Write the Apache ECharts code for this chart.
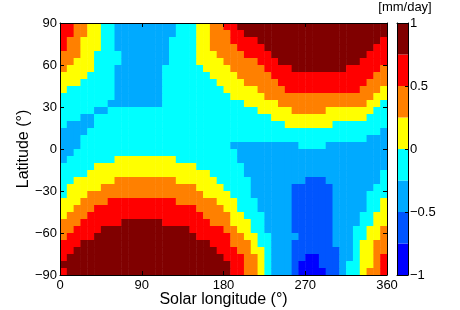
<!DOCTYPE html>
<html><head><meta charset="utf-8">
<script src="https://cdn.jsdelivr.net/npm/echarts@6/dist/echarts.min.js"></script>
<style>html,body{margin:0;padding:0;background:#fff}#c{width:460px;height:310px}</style>
</head><body><div id="c"></div>
<script>
// Solar longitude (deg) at cell centres, latitude (deg) at cell centres
const lsCenters = [3.75,11.25,18.75,26.25,33.75,41.25,48.75,56.25,63.75,71.25,78.75,86.25,
  93.75,101.25,108.75,116.25,123.75,131.25,138.75,146.25,153.75,161.25,168.75,176.25,
  183.75,191.25,198.75,206.25,213.75,221.25,228.75,236.25,243.75,251.25,258.75,266.25,
  273.75,281.25,288.75,296.25,303.75,311.25,318.75,326.25,333.75,341.25,348.75,356.25];
const latCenters = [87.5,82.5,77.5,72.5,67.5,62.5,57.5,52.5,47.5,42.5,37.5,32.5,27.5,22.5,17.5,12.5,7.5,2.5,
  -2.5,-7.5,-12.5,-17.5,-22.5,-27.5,-32.5,-37.5,-42.5,-47.5,-52.5,-57.5,-62.5,-67.5,-72.5,-77.5,-82.5,-87.5];
// contour levels [mm/day] and their fill colours
const levelBounds = [-1,-0.75,-0.5,-0.25,0,0.25,0.5,0.75,1];
const levelColors = ['#0000ff','#0055ff','#00aaff','#00ffff','#ffff00','#ff8000','#ff0000','#800000'];
const xTicks = [0,90,180,270,360];
const yTicks = [-90,-60,-30,0,30,60,90];
const cbTicks = [-1,-0.5,0,0.5,1];
// level index (0..7) read for each cell, one string per latitude row (north to south)
const levelRows = [
 ['66554433','222222222','333445566','7777777777','7777777777','77'].join(''),
 ['66554433','222222222','3334455566','7777777777','7777777777','7'].join(''),
 ['655444','33','22222222','3333','445556666','7777777777','77777777','6'].join(''),
 ['655444','33','22222222','3333','4455556666','7777777777','777777','66'].join(''),
 ['55544','3333','2222222','3333','444','55556666','7777777777','7777','666'].join(''),
 ['55444','3333','2222222','3333','4444','55555666','7777777777','77','6666'].join(''),
 ['54444333','2222222','333333','4444','555556666','77777777','666665'].join(''),
 ['44443333','2222222','3333333','444455555','6666666666','66666','55'].join(''),
 ['44433333','2222222','33333333','444455555','6666666666','666','555'].join(''),
 ['43333333','2222222','333333333','444445555','6666666666','6','5554'].join(''),
 ['33333333','2222222','3333333333','44444','5555555555','555555','44'].join(''),
 ['3333333','22222222','3333333333','33','44444','5555555555','555','443'].join(''),
 ['3333322','3333333333','3333333333','33','4444455555','4444444','33'].join(''),
 ['33322','3333333333','3333333333','333333','4444444444','4444','333'].join(''),
 ['32222','3333333333','3333333333','33333333','4444444','33333333'].join(''),
 ['2222','3333333333','3333333333','3333333333','3333333333','333','2'].join(''),
 ['222','3333333333','3333333333','3333333333','3333333333','33','222'].join(''),
 ['222','3333333333','3333333333','33','2222222222','3333','222222222'].join(''),
 ['22','3333333333','3333333333','3333','2222222222','2222222222','22'].join(''),
 ['23333333','444444444','333333333','2222222222','2222222222','22'].join(''),
 ['33333','4444444444','44444','3333333','2222222222','2222222222','2'].join(''),
 ['3333','4444444444','44444444','33333','2222222222','2222222222','3'].join(''),
 ['33444444','555555555','444444','33333','22222222','111','22222222','3'].join(''),
 ['344444','5555555555','5555','44443333','222222','111111','222222','33'].join(''),
 ['3444','5555555555','5555555','4444333','222222','111111','22222','333'].join(''),
 ['4445555','6666666666','555555','444333','22222','111111','22222','334'].join(''),
 ['44555','6666666666','66666','555544','333','22222','111111','22222','334'].join(''),
 ['4555','6666666666','6666666','555544','333','2222','111111','2222','3344'].join(''),
 ['555666666','777777','6666666','555444','33','2222','111111','2222','3344'].join(''),
 ['556666','7777777777','777','66666','554433','2222','111111','222','33445'].join(''),
 ['56666','7777777777','77777','66666','554433','2222','11111','222','33445'].join(''),
 ['666','7777777777','777777777','6665554','33','222','111111','222','34455'].join(''),
 ['66','7777777777','7777777777','7','66655443','222','1111111','22','34455'].join(''),
 ['6','7777777777','7777777777','777','66655','43','222','1100111','22','34456'].join(''),
 ['7777777777','7777777777','77777','665543','222','1000111','2','334456'].join(''),
 ['6','7777777777','7777777777','7777','665543','222','1000011','2','334556'].join('')
];
levelRows.forEach((r, i) => { if (r.length !== lsCenters.length) throw new Error('row ' + i + ' has length ' + r.length); });

const lsStep = 7.5, latStep = 5;
const cells = [];
levelRows.forEach((row, r) => {
  for (let c = 0; c < row.length; c++) {
    const d = +row[c];
    cells.push([lsCenters[c], latCenters[r], (levelBounds[d] + levelBounds[d + 1]) / 2, d]);
  }
});
const cbData = levelColors.map((col, i) => [0, levelBounds[i], levelBounds[i + 1], i]);

const FONT = '"Liberation Sans", Arial, Helvetica, sans-serif';
const minus = v => String(v).replace('-', '\u2212');
const lineStyle = { color: '#000', width: 1 };
const axLine = { show: true, onZero: false, lineStyle };
const tickStyle = { show: true, inside: true, length: 4, lineStyle: { color: '#000', width: 1 } };
const noLabel = { show: false };

const chart = echarts.init(document.getElementById('c'));
chart.setOption({
  animation: false,
  backgroundColor: '#fff',
  textStyle: { fontFamily: FONT },
  grid: [
    { left: 60, top: 23, width: 327, height: 252, outerBoundsMode: 'none', containLabel: false },
    { left: 397, top: 23, width: 11, height: 252, outerBoundsMode: 'none', containLabel: false }
  ],
  xAxis: [
    { type: 'value', gridIndex: 0, min: 0, max: 360, interval: 90, position: 'bottom', z: 10,
      axisLine: axLine, axisTick: tickStyle, splitLine: { show: false },
      axisLabel: { color: '#000', fontSize: 13, margin: 4, fontFamily: FONT,
        formatter: v => xTicks.includes(v) ? String(v) : '' },
      name: 'Solar longitude (°)', nameLocation: 'middle', nameGap: 17, nameMoveOverlap: false,
      nameTextStyle: { color: '#000', fontSize: 16, fontFamily: FONT, verticalAlign: 'top' } },
    { type: 'value', gridIndex: 0, min: 0, max: 360, interval: 90, position: 'top', z: 10,
      axisLine: axLine, axisTick: tickStyle, axisLabel: noLabel, splitLine: { show: false } },
    { type: 'value', gridIndex: 1, min: 0, max: 1, position: 'bottom', z: 10,
      axisLine: axLine, axisTick: { show: false }, axisLabel: noLabel, splitLine: { show: false } },
    { type: 'value', gridIndex: 1, min: 0, max: 1, position: 'top', z: 10,
      axisLine: axLine, axisTick: { show: false }, axisLabel: noLabel, splitLine: { show: false } }
  ],
  yAxis: [
    { type: 'value', gridIndex: 0, min: -90, max: 90, interval: 30, position: 'left', z: 10,
      axisLine: axLine, axisTick: tickStyle, splitLine: { show: false },
      axisLabel: { color: '#000', fontSize: 13, margin: 3, fontFamily: FONT,
        formatter: v => yTicks.includes(v) ? minus(v) : '' },
      name: 'Latitude (°)', nameLocation: 'middle', nameGap: 36, nameRotate: 90, nameMoveOverlap: false,
      nameTextStyle: { color: '#000', fontSize: 16, fontFamily: FONT, verticalAlign: 'middle' } },
    { type: 'value', gridIndex: 0, min: -90, max: 90, interval: 30, position: 'right', z: 10,
      axisLine: axLine, axisTick: tickStyle, axisLabel: noLabel, splitLine: { show: false } },
    { type: 'value', gridIndex: 1, min: -1, max: 1, interval: 0.5, position: 'right', z: 10,
      axisLine: axLine, splitLine: { show: false },
      axisTick: { show: true, inside: true, length: 3, lineStyle: { color: '#000', width: 1 } },
      axisLabel: { color: '#000', fontSize: 13, margin: 2, fontFamily: FONT,
        formatter: v => cbTicks.includes(v) ? minus(v) : '' } },
    { type: 'value', gridIndex: 1, min: -1, max: 1, interval: 0.5, position: 'left', z: 10,
      axisLine: axLine, axisTick: { show: false }, axisLabel: noLabel, splitLine: { show: false } }
  ],
  graphic: [
    { type: 'text', x: 405, y: 7, z: 20,
      style: { text: '[mm/day]', fill: '#000', font: '13px ' + FONT, textAlign: 'center', textVerticalAlign: 'middle' } }
  ],
  series: [
    { type: 'custom', xAxisIndex: 0, yAxisIndex: 0, data: cells, clip: true, silent: true,
      encode: { x: 0, y: 1 },
      renderItem: (params, api) => {
        const x = api.value(0), y = api.value(1), d = api.value(3);
        const a = api.coord([x - lsStep / 2, y + latStep / 2]);
        const b = api.coord([x + lsStep / 2, y - latStep / 2]);
        return { type: 'rect', shape: { x: a[0], y: a[1], width: b[0] - a[0] + 0.5, height: b[1] - a[1] + 0.5 },
          style: { fill: levelColors[d] } };
      } },
    { type: 'custom', xAxisIndex: 2, yAxisIndex: 2, data: cbData, silent: true,
      encode: { x: 0, y: [1, 2] },
      renderItem: (params, api) => {
        const lo = api.value(1), hi = api.value(2);
        const a = api.coord([0, hi]);
        const b = api.coord([1, lo]);
        return { type: 'rect', shape: { x: a[0], y: a[1], width: b[0] - a[0], height: b[1] - a[1] },
          style: { fill: levelColors[api.value(3)] } };
      } }
  ]
});
</script></body></html>
